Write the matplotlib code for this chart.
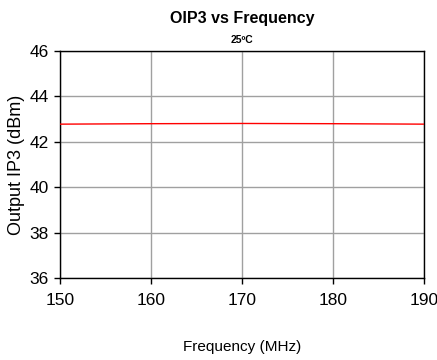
import matplotlib
matplotlib.use("Agg")
import matplotlib.pyplot as plt

# data
freq_mhz = [150, 160, 170, 180, 190]
oip3_dbm = [42.78, 42.80, 42.81, 42.80, 42.78]
x_ticks = [150, 160, 170, 180, 190]
y_ticks = [36, 38, 40, 42, 44, 46]

plt.rcParams['font.family'] = ['Liberation Sans', 'DejaVu Sans']

fig = plt.figure(figsize=(4.37, 3.6), dpi=100)
ax = fig.add_axes([0.137, 0.228, 0.833, 0.630])

ax.plot(freq_mhz, oip3_dbm, color='red', lw=1.0, zorder=3)

ax.set_xlim(150, 190)
ax.set_ylim(36, 46)
ax.set_xticks(x_ticks)
ax.set_yticks(y_ticks)
ax.grid(True, color='#a0a0a0', lw=1.0)
ax.set_axisbelow(True)
for s in ax.spines.values():
    s.set_color('black')
    s.set_linewidth(1.0)
ax.tick_params(direction='out', length=4, width=1, labelsize=12.5, pad=4)
ax.tick_params(axis='x', pad=7)

ax.set_ylabel('Output IP3 (dBm)', fontsize=13, labelpad=3)
ax.set_xlabel('Frequency (MHz)', fontsize=11, labelpad=23)

fig.text(0.554, 0.948, 'OIP3 vs Frequency', ha='center', va='center',
         fontsize=11.5, fontweight='bold')
fig.text(0.554, 0.890, '25ºC', ha='center', va='center',
         fontsize=7.5, fontweight='bold')

fig.savefig('out.png', dpi=100)
